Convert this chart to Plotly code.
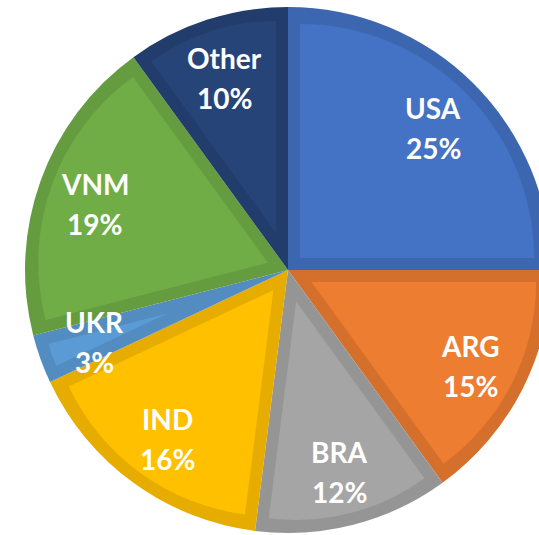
import math
import plotly.graph_objects as go

# ---- data ----
categories = ["USA", "ARG", "BRA", "IND", "UKR", "VNM", "Other"]
shares = [25, 15, 12, 16, 3, 19, 10]
fill_colors = ["#4472C4", "#ED7D31", "#A5A5A5", "#FFC000", "#5B9BD5", "#70AD47", "#264478"]
edge_colors = ["#3D66B0", "#D5702C", "#959595", "#E6AD00", "#528CC0", "#659C40", "#223D6C"]

# ---- layout constants ----
W, H = 560, 535
CX, CY, R = 288, 270, 263
INSET = 12
LABEL_R = 0.78


def dom(cx, cy, r):
    return dict(x=[(cx - r) / W, (cx + r) / W], y=[(H - cy - r) / H, (H - cy + r) / H])


fig = go.Figure()
fig.add_trace(go.Pie(
    labels=categories, values=shares, sort=False, direction="clockwise", rotation=0,
    marker=dict(colors=edge_colors, line=dict(width=0)), textinfo="none",
    domain=dom(CX, CY, R), showlegend=False,
))

total = sum(shares)
start = 0.0
annotations = []
for cat, v, col in zip(categories, shares, fill_colors):
    span = 360.0 * v / total
    mid = math.radians(start + span / 2)
    half = math.radians(span / 2)
    off = INSET / math.sin(half)
    ax = CX + off * math.sin(mid)
    ay = CY - off * math.cos(mid)
    r2 = R - INSET - off
    fig.add_trace(go.Pie(
        labels=[cat, cat + " rest"], values=[v, total - v], sort=False,
        direction="clockwise", rotation=start,
        marker=dict(colors=[col, "rgba(0,0,0,0)"], line=dict(width=0)),
        textinfo="none", hoverinfo="skip", domain=dom(ax, ay, r2), showlegend=False,
    ))
    lx = CX + LABEL_R * R * math.sin(mid)
    ly = CY - LABEL_R * R * math.cos(mid) + 3
    for txt, shift in ((cat, 20), (f"{v}%", -20)):
        annotations.append(dict(
            x=lx / W, y=(H - ly) / H, xref="paper", yref="paper", text=txt,
            showarrow=False, yshift=shift, xanchor="center", yanchor="middle",
            font=dict(family="Lato", size=28, color="white", weight="bold"),
        ))
    start += span

fig.update_layout(
    width=W, height=H, margin=dict(l=0, r=0, t=0, b=0),
    paper_bgcolor="white", plot_bgcolor="white", annotations=annotations,
    showlegend=False,
)

fig.write_html(
    "out.html",
    config={"displayModeBar": False},
    post_script="document.body.style.margin='0';document.body.style.overflow='hidden';"
                "document.documentElement.style.overflow='hidden';",
)
